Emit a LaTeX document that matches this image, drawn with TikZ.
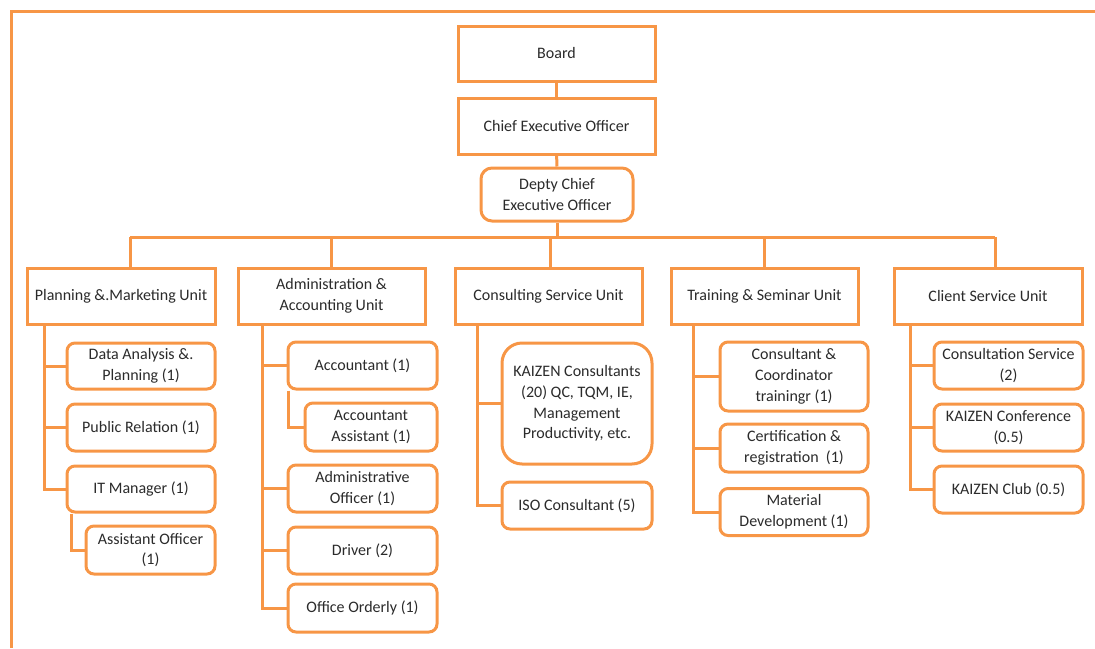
\documentclass[tikz,border=0pt]{standalone}
\usepackage{fontspec}
\setmainfont{Carlito}
\definecolor{org}{HTML}{F79646}
\definecolor{txt}{HTML}{2B2B2B}
\begin{document}
\begin{tikzpicture}[x=1pt,y=-1pt,
  line width=3pt,
  box/.style={draw=org, fill=white, text=txt, align=center, inner sep=0pt,
    font=\fontsize{16}{20.7}\selectfont},
  sqbox/.style={box, rounded corners=0pt},
  rbox/.style={box, rounded corners=8pt},
  conn/.style={draw=org, line width=3pt}
]
\useasboundingbox (0,0) rectangle (1095,648);
\draw[conn] (11,648) -- (11,11) -- (1095,11);

% top
\node[sqbox, minimum width=197pt, minimum height=55pt] (board) at (556.5,53.5) {Board};
\node[sqbox, minimum width=197pt, minimum height=56pt] (ceo) at (556.5,126) {Chief Executive Officer};
\node[box, rounded corners=11pt, minimum width=152pt, minimum height=53pt] (dep) at (557,194.5) {Depty Chief\\Executive Officer};

% units
\node[sqbox, minimum width=188pt, minimum height=56pt] (pm) at (121,296) {Planning \&.Marketing Unit};
\node[sqbox, minimum width=187pt, minimum height=56pt] (ad) at (331.5,296) {Administration \&\\Accounting Unit};
\node[sqbox, minimum width=187pt, minimum height=56pt] (cs) at (548.5,296) {Consulting Service Unit};
\node[sqbox, minimum width=187pt, minimum height=56pt] (tr) at (764.5,296) {Training \& Seminar Unit};
\node[sqbox, minimum width=188pt, minimum height=56pt] (cl) at (988,296) {Client Service Unit};

% planning children
\node[rbox, minimum width=148pt, minimum height=46pt] (da) at (141,366) {Data Analysis \&.\\Planning (1)};
\node[rbox, minimum width=148pt, minimum height=47pt] (pr) at (141,427.5) {Public Relation (1)};
\node[rbox, minimum width=148pt, minimum height=46pt] (it) at (141,489) {IT Manager (1)};
\node[rbox, minimum width=129pt, minimum height=48pt] (ao) at (150.5,550) {Assistant Officer\\(1)};

% admin children
\node[rbox, minimum width=149pt, minimum height=47pt] (acc) at (362.5,365.5) {Accountant (1)};
\node[rbox, minimum width=132pt, minimum height=48pt] (acca) at (371,427) {Accountant\\Assistant (1)};
\node[rbox, minimum width=149pt, minimum height=47pt] (admo) at (362.5,488.5) {Administrative\\Officer (1)};
\node[rbox, minimum width=149pt, minimum height=47pt] (drv) at (362.5,550.5) {Driver (2)};
\node[rbox, minimum width=149pt, minimum height=48pt] (oo) at (362.5,608) {Office Orderly (1)};

% consulting children
\node[box, rounded corners=20pt, minimum width=150pt, minimum height=121pt] (kc) at (577,403.5) {KAIZEN Consultants\\(20) QC, TQM, IE,\\Management\\Productivity, etc.};
\node[rbox, minimum width=150pt, minimum height=47pt] (iso) at (577,505.5) {ISO Consultant (5)};

% training children
\node[rbox, minimum width=148pt, minimum height=69pt] (cc) at (794,376.5) {Consultant \&\\Coordinator\\trainingr (1)};
\node[rbox, minimum width=148pt, minimum height=48pt] (cert) at (794,448) {Certification \&\\registration~~(1)};
\node[rbox, minimum width=148pt, minimum height=47pt] (md) at (794,512) {Material\\Development (1)};

% client children
\node[rbox, minimum width=149pt, minimum height=47pt] (csv) at (1008.5,365.5) {Consultation Service\\(2)};
\node[rbox, minimum width=149pt, minimum height=47pt] (kcf) at (1008.5,427.5) {KAIZEN Conference\\(0.5)};
\node[rbox, minimum width=149pt, minimum height=47pt] (kcl) at (1008.5,489.5) {KAIZEN Club (0.5)};

% connector helper coordinates
\coordinate (bus) at (0,237);
\coordinate (xpm) at (130,0);
\coordinate (xad) at (331.5,0);
\coordinate (xcs) at (550,0);
\coordinate (xtr) at (764,0);
\coordinate (xcl) at (995,0);
\coordinate (vpm) at (44,0);
\coordinate (vit) at (71,0);
\coordinate (vad) at (262,0);
\coordinate (vacc) at (288.5,0);
\coordinate (vcs) at (477,0);
\coordinate (vtr) at (693,0);
\coordinate (vcl) at (910,0);

% top connectors
\draw[conn] (board) -- (ceo);
\draw[conn] (ceo) -- (dep);
\draw[conn] (dep.south) -- (dep.south |- bus);
\draw[conn] (bus -| xpm) -- (bus -| xcl);
\draw[conn] (bus -| xpm) -- (pm.north -| xpm);
\draw[conn] (bus -| xad) -- (ad.north -| xad);
\draw[conn] (bus -| xcs) -- (cs.north -| xcs);
\draw[conn] (bus -| xtr) -- (tr.north -| xtr);
\draw[conn] (bus -| xcl) -- (cl.north -| xcl);

% planning
\draw[conn] (pm.south -| vpm) |- (da.west);
\draw[conn] (pm.south -| vpm) |- (pr.west);
\draw[conn] (pm.south -| vpm) |- (it.west);
\draw[conn] (it.south -| vit) |- (ao.west);

% admin
\draw[conn] (ad.south -| vad) |- (acc.west);
\draw[conn] (acc.south -| vacc) |- (acca.west);
\draw[conn] (ad.south -| vad) |- (admo.west);
\draw[conn] (ad.south -| vad) |- (drv.west);
\draw[conn] (ad.south -| vad) |- (oo.west);

% consulting
\draw[conn] (cs.south -| vcs) |- (kc.west);
\draw[conn] (cs.south -| vcs) |- (iso.west);

% training
\draw[conn] (tr.south -| vtr) |- (cc.west);
\draw[conn] (tr.south -| vtr) |- (cert.west);
\draw[conn] (tr.south -| vtr) |- (md.west);

% client
\draw[conn] (cl.south -| vcl) |- (csv.west);
\draw[conn] (cl.south -| vcl) |- (kcf.west);
\draw[conn] (cl.south -| vcl) |- (kcl.west);
\end{tikzpicture}
\end{document}
